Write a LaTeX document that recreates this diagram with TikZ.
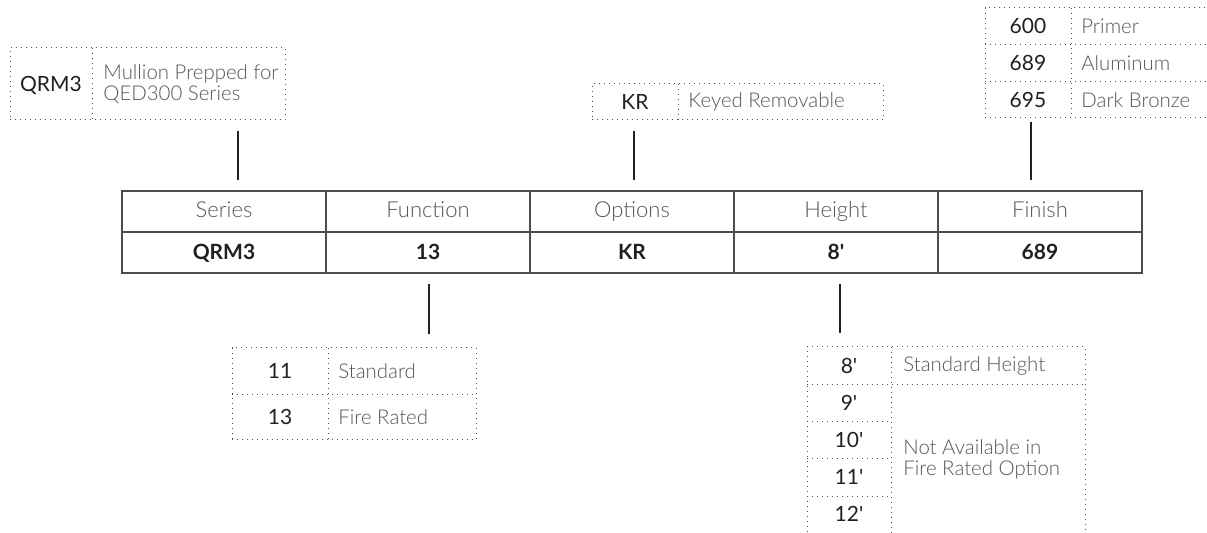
\documentclass[tikz,border=0pt]{standalone}
\usepackage{fontspec}
\setmainfont{Lato}
\newfontfamily\lightfont{Lato Light}
\definecolor{labelgray}{HTML}{555555}
\definecolor{codeblack}{HTML}{231F20}
\definecolor{rulegray}{HTML}{4D4D4D}
\newcommand\feet{\textquotesingle}

\begin{document}
\begin{tikzpicture}[x=0.5pt,y=-0.5pt,
  desc/.style={font=\lightfont\fontsize{10.2}{10.4}\selectfont,text=labelgray,anchor=west,align=left,inner sep=0pt},
  code/.style={font=\fontsize{10.5}{12}\selectfont,text=codeblack,inner sep=0pt,text height=7.5pt,text depth=0pt},
  headtext/.style={font=\lightfont\fontsize{11}{12}\selectfont,text=labelgray,inner sep=0pt,text height=8pt,text depth=2pt},
  valtext/.style={font=\bfseries\fontsize{10.5}{12}\selectfont,text=codeblack,inner sep=0pt,text height=7.5pt,text depth=0pt},
  dotbox/.style={draw=rulegray,line width=0.5pt,dotted},
  boxnode/.style={dotbox,anchor=north west,inner sep=0pt,outer sep=0pt},
  link/.style={draw=codeblack,line width=0.6pt,shorten <=5.5pt,shorten >=5.5pt}]
  \useasboundingbox (0,0) rectangle (1207,533);
  \def\colwidth{204}

  % order table
  \node[draw=rulegray,line width=0.8pt,anchor=north west,inner sep=0pt,outer sep=0pt,
    minimum width=510pt,minimum height=41pt] (table) at (122,191) {};
  \draw[rulegray,line width=0.8pt] (table.west) -- (table.east);
  \foreach \x in {1,...,4}
    \draw[rulegray,line width=0.8pt] ({122+\x*\colwidth},191) -- ({122+\x*\colwidth},273);
  \foreach \key/\head/\val [count=\col from 0] in {ser/Series/QRM3,fun/Function/13,opt/Options/KR,hgt/Height/8\feet,fin/Finish/689} {
    \node[headtext] (head-\key) at ({122+(\col+0.5)*\colwidth},211.5) {\head};
    \node[valtext] (val-\key) at ({122+(\col+0.5)*\colwidth},252.5) {\val};
  }

  % series
  \node[boxnode,minimum width=137.5pt,minimum height=36pt] (ser-box) at (10,48) {};
  \draw[dotbox] (92,48) -- (92,120);
  \node[code] (ser-code) at (51,84) {QRM3};
  \node[desc] (ser-desc) at (103,84) {Mullion Prepped for\\QED300 Series};

  % options
  \node[boxnode,minimum width=145.5pt,minimum height=18pt] (opt-box) at (592,84) {};
  \draw[dotbox] (678,84) -- (678,120);
  \node[code] (opt-code) at (635,102) {KR};
  \node[desc] (opt-desc) at (688,102) {Keyed Removable};

  % finish
  \node[boxnode,minimum width=115pt,minimum height=55pt] (fin-box) at (985,8) {};
  \draw[dotbox] (1071,8) -- (1071,118);
  \foreach \y in {45,82}
    \draw[dotbox] (985,\y) -- (1215,\y);
  \foreach \code/\text [count=\row from 0] in {600/Primer,689/Aluminum,695/Dark Bronze} {
    \node[code] (fin-code\row) at (1028,{26.5+\row*37}) {\code};
    \node[desc] (fin-desc\row) at (1081,{26.5+\row*37}) {\text};
  }

  % function
  \node[boxnode,minimum width=122pt,minimum height=46pt] (fun-box) at (232,348) {};
  \draw[dotbox] (328,348) -- (328,440);
  \draw[dotbox] (232,395) -- (476,395);
  \foreach \code/\text [count=\row from 0] in {11/Standard,13/Fire Rated} {
    \node[code] (fun-code\row) at (280,{371.5+\row*46}) {\code};
    \node[desc] (fun-desc\row) at (338,{371.5+\row*46}) {\text};
  }

  % height
  \node[boxnode,minimum width=139pt,minimum height=105pt] (hgt-box) at (807,347) {};
  \draw[dotbox] (891,347) -- (891,560);
  \draw[dotbox] (807,385) -- (1085,385);
  \foreach \y in {422,459,497}
    \draw[dotbox] (807,\y) -- (891,\y);
  \foreach \code [count=\row from 0] in {8,9,10,11,12}
    \node[code] (hgt-code\row) at (849,{366+\row*37}) {\code\feet};
  \node[desc] (hgt-desc0) at (903,366) {Standard Height};
  \node[desc] (hgt-desc1) at (903,459) {Not Available in\\Fire Rated Option};

  % connectors
  \coordinate (ser-link) at (238,0);
  \coordinate (opt-link) at (634,0);
  \coordinate (fin-link) at (1031,0);
  \coordinate (fun-link) at (429,0);
  \coordinate (hgt-link) at (840,0);
  \draw[link] (ser-link |- ser-box.south) -- (ser-link |- table.north);
  \draw[link] (opt-link |- opt-box.south) -- (opt-link |- table.north);
  \draw[link,shorten <=2pt] (fin-link |- fin-box.south) -- (fin-link |- table.north);
  \draw[link,shorten >=7pt] (fun-link |- table.south) -- (fun-link |- fun-box.north);
  \draw[link,shorten >=7pt] (hgt-link |- table.south) -- (hgt-link |- hgt-box.north);
\end{tikzpicture}
\end{document}
